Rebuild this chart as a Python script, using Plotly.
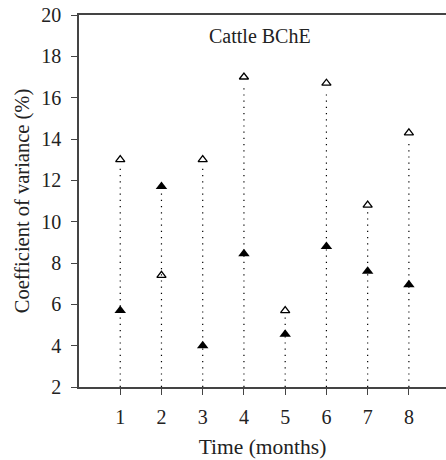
import plotly.graph_objects as go

months = [1, 2, 3, 4, 5, 6, 7, 8]
open_vals = [13.0, 7.4, 13.0, 17.0, 5.7, 16.7, 10.8, 14.3]
filled_vals = [5.7, 11.7, 4.0, 8.45, 4.55, 8.8, 7.6, 6.95]
y_ticks = [2, 4, 6, 8, 10, 12, 14, 16, 18, 20]
baseline = 2

FONT = "'Liberation Serif', 'DejaVu Serif', serif"

lx, ly = [], []
for m, a, b in zip(months, open_vals, filled_vals):
    lx += [m, m, None]
    ly += [baseline, max(a, b) - 0.3, None]

fig = go.Figure()
fig.add_trace(go.Scatter(x=lx, y=ly, mode="lines",
                         line=dict(color="black", width=1.2, dash="1.2px,5px"),
                         hoverinfo="skip", showlegend=False))
fig.add_trace(go.Scatter(x=months, y=open_vals, mode="markers",
                         marker=dict(symbol="triangle-up-open", size=8,
                                     color="black", line=dict(width=1.3, color="black")),
                         showlegend=False))
fig.add_trace(go.Scatter(x=months, y=filled_vals, mode="markers",
                         marker=dict(symbol="triangle-up", size=10, color="black"),
                         showlegend=False))

fig.add_annotation(text="Cattle BChE", x=4.38, y=19.0, xref="x", yref="y",
                   showarrow=False, font=dict(family=FONT, size=20, color="#222"))

fig.update_layout(
    width=446, height=460,
    margin=dict(l=79, r=0, t=15, b=73),
    plot_bgcolor="white", paper_bgcolor="white",
    font=dict(family=FONT, size=20, color="#222"),
    xaxis=dict(range=[0, 8.9], tickvals=months, ticks="outside", ticklen=6,
               tickcolor="#444", showline=True, linecolor="#444", linewidth=1.5,
               mirror=True, showgrid=False, zeroline=False, ticklabelstandoff=5,
               title=dict(text="Time (months)", font=dict(family=FONT, size=21.5), standoff=12),
               tickfont=dict(family=FONT, size=20)),
    yaxis=dict(range=[2, 20], tickvals=y_ticks, ticks="outside", ticklen=6,
               tickcolor="#444", showline=True, linecolor="#444", linewidth=1.5,
               showgrid=False, zeroline=False, ticklabelstandoff=6,
               title=dict(text="Coefficient of variance (%)", font=dict(family=FONT, size=20.5), standoff=6),
               tickfont=dict(family=FONT, size=20)),
)

fig.write_html("out.html", config={"displayModeBar": False},
               post_script="document.body.style.margin='0';document.body.style.overflow='hidden';")
